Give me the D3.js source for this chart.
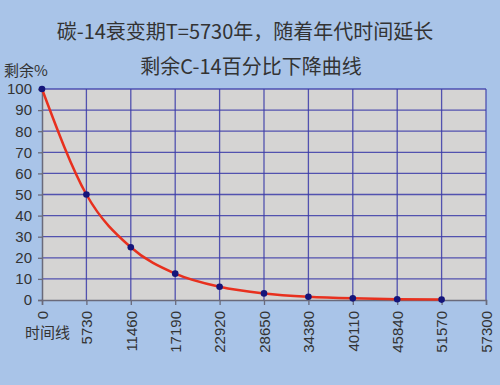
<!DOCTYPE html>
<html>
<head>
<meta charset="utf-8">
<script src="https://cdn.jsdelivr.net/npm/d3@7"></script>
<style>
  body { margin: 0; background: #a9c4e8; }
  svg { display: block; font-family: "Noto Sans CJK SC", "Noto Sans", sans-serif; }
</style>
</head>
<body>
<svg id="chart" width="500" height="385"></svg>
<script>
const years = [0, 5730, 11460, 17190, 22920, 28650, 34380, 40110, 45840, 51570];
const remain = [100, 50, 25, 12.5, 6.25, 3.125, 1.5625, 0.78, 0.39, 0.2];
const xTicks = [0, 5730, 11460, 17190, 22920, 28650, 34380, 40110, 45840, 51570, 57300];
const yTicks = [0, 10, 20, 30, 40, 50, 60, 70, 80, 90, 100];

const data = years.map((t, i) => ({ t: t, v: remain[i] }));

const svg = d3.select("#chart");
const plotL = 42, plotR = 486, plotT = 89, plotB = 300;

const x = d3.scaleLinear().domain([0, 57300]).range([plotL, plotR]);
const y = d3.scaleLinear().domain([0, 100]).range([plotB, plotT]);

// background
svg.append("rect").attr("width", 500).attr("height", 385).attr("fill", "#a9c4e8");
svg.append("rect")
  .attr("x", plotL).attr("y", plotT)
  .attr("width", plotR - plotL).attr("height", plotB - plotT)
  .attr("fill", "#d5d4d3");

// grid
const grid = svg.append("g").attr("stroke", "#3b3ba8").attr("stroke-width", 1.3).attr("stroke-opacity", 0.85);
grid.selectAll("line.h")
  .data(yTicks.filter(d => d > 0))
  .join("line")
  .attr("x1", plotL).attr("x2", plotR)
  .attr("y1", d => y(d)).attr("y2", d => y(d));
grid.selectAll("line.v")
  .data(xTicks.filter(d => d > 0))
  .join("line")
  .attr("x1", d => x(d)).attr("x2", d => x(d))
  .attr("y1", plotT).attr("y2", plotB);

// axes
const yAxis = svg.append("g")
  .attr("transform", `translate(${plotL},0)`)
  .call(d3.axisLeft(y).tickValues(yTicks).tickSize(4).tickPadding(6));
const xAxis = svg.append("g")
  .attr("transform", `translate(0,${plotB})`)
  .call(d3.axisBottom(x).tickValues(xTicks).tickSize(5).tickFormat(d3.format("d")));

[yAxis, xAxis].forEach(a => {
  a.select(".domain").attr("stroke", "#6a6a7a").attr("stroke-width", 1.5);
  a.selectAll(".tick line").attr("stroke", "#6a6a7a").attr("stroke-width", 1.3);
  a.selectAll("text").attr("fill", "#333").style("font-size", "15px")
    .style("font-family", "'Liberation Sans', Arial, sans-serif");
});
xAxis.selectAll("text")
  .attr("transform", "rotate(-90)")
  .attr("text-anchor", "end")
  .attr("x", -11).attr("y", 0).attr("dy", "0.35em");

// curve
svg.append("path")
  .datum(data)
  .attr("fill", "none")
  .attr("stroke", "#e8301e")
  .attr("stroke-width", 2.5)
  .attr("d", d3.line().x(d => x(d.t)).y(d => y(d.v)).curve(d3.curveMonotoneX));

svg.selectAll("circle.pt")
  .data(data)
  .join("circle")
  .attr("class", "pt")
  .attr("cx", d => x(d.t)).attr("cy", d => y(d.v))
  .attr("r", 3.3)
  .attr("fill", "#15157a");

// titles
svg.append("text").attr("x", 245).attr("y", 39).attr("text-anchor", "middle")
  .attr("fill", "#333").style("font-size", "20px")
  .text("碳-14衰变期T=5730年，随着年代时间延长");
svg.append("text").attr("x", 251).attr("y", 74).attr("text-anchor", "middle")
  .attr("fill", "#333").style("font-size", "20px")
  .text("剩余C-14百分比下降曲线");
svg.append("text").attr("x", 4).attr("y", 76)
  .attr("fill", "#333").style("font-size", "15px")
  .text("剩余%");
svg.append("text").attr("x", 25).attr("y", 338)
  .attr("fill", "#333").style("font-size", "15px")
  .text("时间线");
</script>
</body>
</html>
